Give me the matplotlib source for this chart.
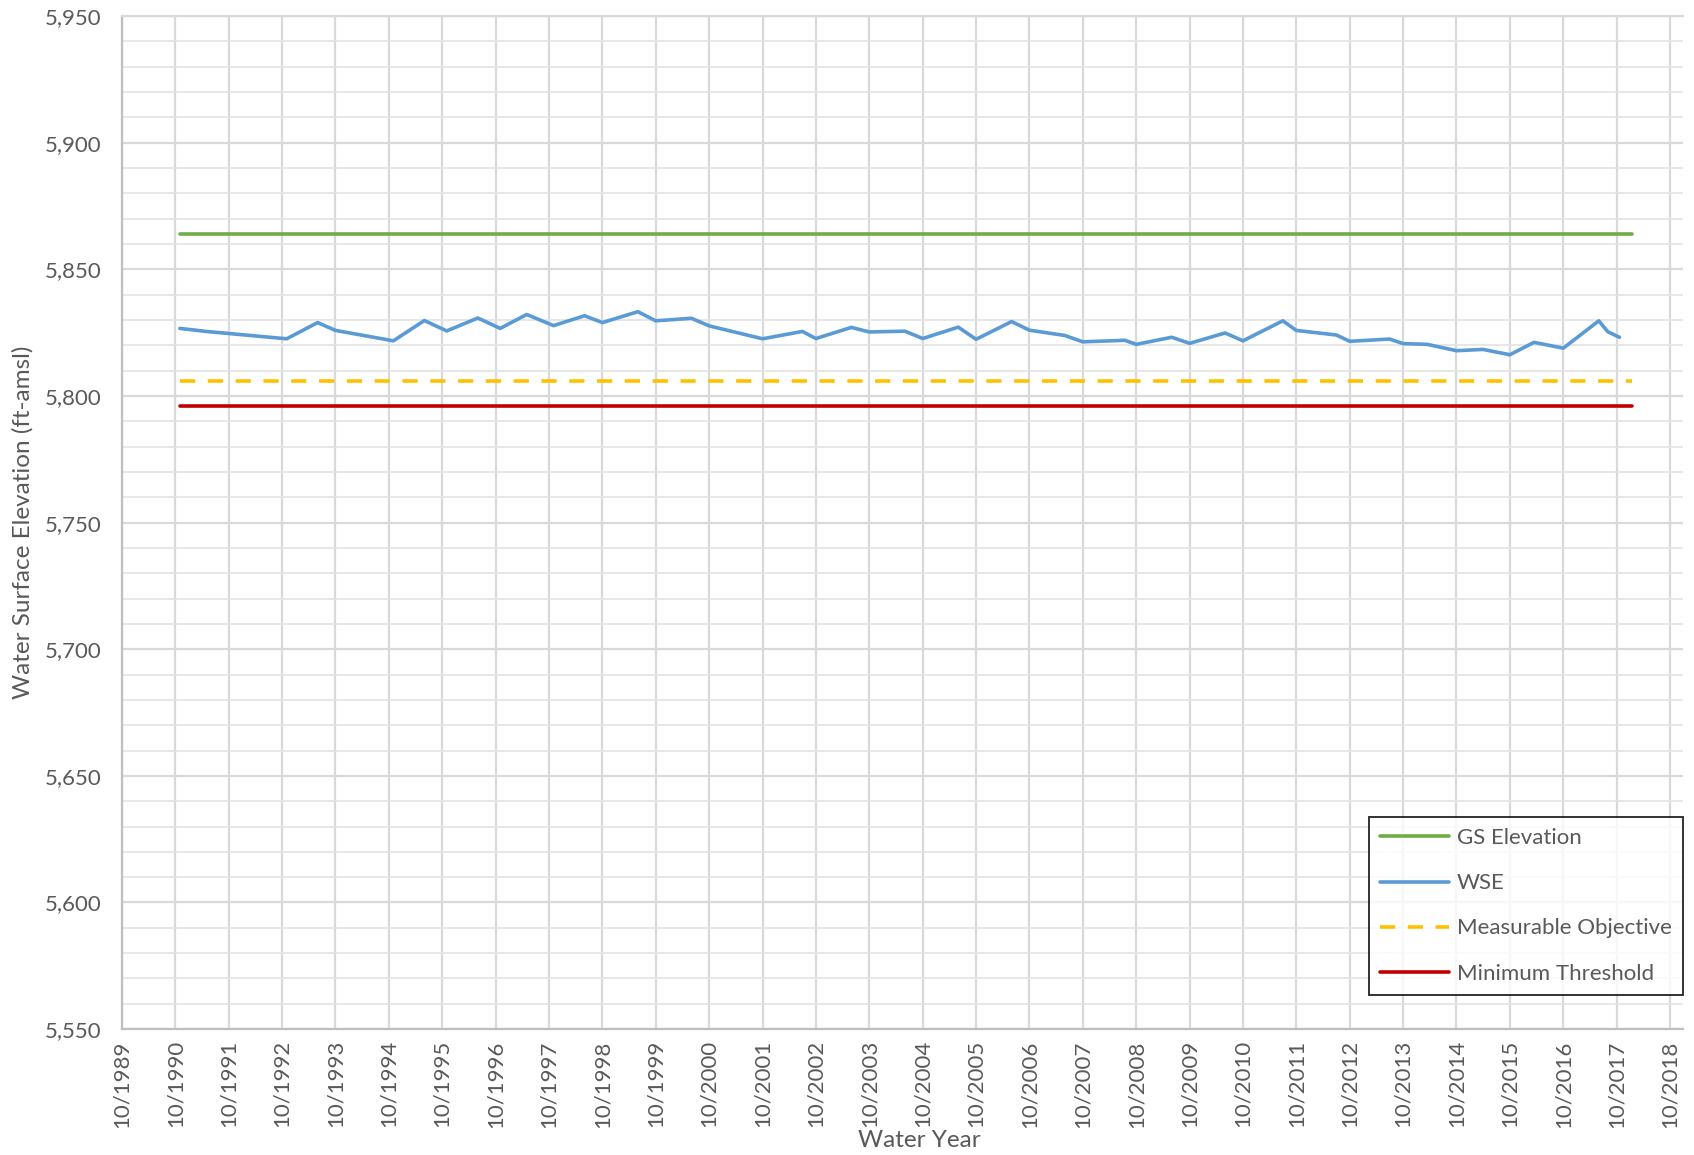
import numpy as np
import pandas as pd
import matplotlib
matplotlib.use("Agg")
import matplotlib.pyplot as plt
import matplotlib.dates as mdates
from matplotlib.ticker import MultipleLocator, FuncFormatter

# water surface elevation readings
wse_dates = ["1990-11-01", "1991-05-01", "1992-11-01", "1993-06-01", "1993-10-01",
             "1994-11-01", "1995-06-01", "1995-11-01", "1996-06-01", "1996-11-01",
             "1997-05-01", "1997-11-01", "1998-06-01", "1998-10-01", "1999-06-01",
             "1999-10-01", "2000-06-01", "2000-10-01", "2001-10-01", "2002-07-01",
             "2002-10-01", "2003-06-01", "2003-10-01", "2004-06-01", "2004-10-01",
             "2005-06-01", "2005-10-01", "2006-06-01", "2006-10-01", "2007-06-01",
             "2007-10-01", "2008-07-15", "2008-10-01", "2009-06-01", "2009-10-01",
             "2010-06-01", "2010-10-01", "2011-07-01", "2011-10-01", "2012-07-01",
             "2012-10-01", "2013-07-01", "2013-10-01", "2014-03-15", "2014-10-01",
             "2015-04-01", "2015-10-01", "2016-03-15", "2016-10-01", "2017-06-01",
             "2017-08-01", "2017-10-20"]
wse_vals = [5826.7, 5825.5, 5822.6, 5829.0, 5825.9,
            5821.8, 5829.8, 5825.7, 5830.8, 5826.7,
            5832.2, 5827.8, 5831.7, 5829.0, 5833.3,
            5829.7, 5830.7, 5827.7, 5822.6, 5825.5,
            5822.7, 5827.1, 5825.3, 5825.6, 5822.7,
            5827.2, 5822.4, 5829.4, 5826.0, 5823.9,
            5821.4, 5822.0, 5820.4, 5823.2, 5820.8,
            5824.9, 5821.8, 5829.7, 5825.9, 5824.1,
            5821.6, 5822.5, 5820.7, 5820.4, 5817.9,
            5818.4, 5816.3, 5821.2, 5818.9, 5829.7,
            5825.4, 5823.2]

# constant reference levels
ref_dates = ["1990-11-01", "2018-01-15"]
gs_elev = 5864
meas_obj = 5806
min_thresh = 5796

wse_x = pd.to_datetime(wse_dates)
ref_x = pd.to_datetime(ref_dates)

grey = "#595959"
plt.rcParams['font.family'] = ['Lato', 'DejaVu Sans']

fig = plt.figure(figsize=(16.94, 11.55), dpi=100)
ax = fig.add_axes([0.072, 0.109, 0.9215, 0.877])

ax.plot(ref_x, [gs_elev, gs_elev], color="#70AD47", lw=2.6, label="GS Elevation", solid_capstyle='round')
ax.plot(wse_x, wse_vals, color="#5B9BD5", lw=2.6, label="WSE", solid_capstyle='round', solid_joinstyle='round')
ax.plot(ref_x, [meas_obj, meas_obj], color="#FFC000", lw=2.6, linestyle=(0, (4.2, 3.5)),
        label="Measurable Objective")
ax.plot(ref_x, [min_thresh, min_thresh], color="#C00000", lw=2.6, label="Minimum Threshold",
        solid_capstyle='round')

ax.set_ylim(5550, 5950)
ax.set_xlim(pd.Timestamp("1989-10-01"), pd.Timestamp("2018-12-29"))

ax.yaxis.set_major_locator(MultipleLocator(50))
ax.yaxis.set_minor_locator(MultipleLocator(10))
ax.yaxis.set_major_formatter(FuncFormatter(lambda v, p: "{:,.0f}".format(v)))
ax.xaxis.set_major_locator(mdates.MonthLocator(bymonth=10, bymonthday=1))
ax.xaxis.set_major_formatter(mdates.DateFormatter("%m/%Y"))

ax.grid(True, which='major', color="#d9d9d9", lw=1.6)
ax.grid(True, which='minor', axis='y', color="#e3e3e3", lw=1.2)
ax.set_axisbelow(True)

ax.spines['right'].set_visible(False)
ax.spines['top'].set_color("#d9d9d9")
ax.spines['top'].set_linewidth(1.6)
for s in ['left', 'bottom']:
    ax.spines[s].set_color("#bfbfbf")
    ax.spines[s].set_linewidth(1.6)

ax.tick_params(axis='both', which='both', length=0, colors=grey, labelsize=16)
ax.tick_params(axis='x', rotation=90, pad=8)
ax.tick_params(axis='y', pad=15)

ax.set_ylabel("Water Surface Elevation (ft-amsl)", color=grey, fontsize=17.5, labelpad=8)
ax.set_xlabel("Water Year", color=grey, fontsize=17.5, labelpad=0)
ax.xaxis.set_label_coords(0.511, -0.0997)

leg = ax.legend(loc='lower right', bbox_to_anchor=(1.0, 0.034), fontsize=16, frameon=True,
                fancybox=False, edgecolor='black', handlelength=3.1, labelspacing=1.13,
                borderpad=0.5, handletextpad=0.35, borderaxespad=0)
leg.get_frame().set_linewidth(1.4)
for t in leg.get_texts():
    t.set_color(grey)

fig.savefig("out.png", dpi=100)
